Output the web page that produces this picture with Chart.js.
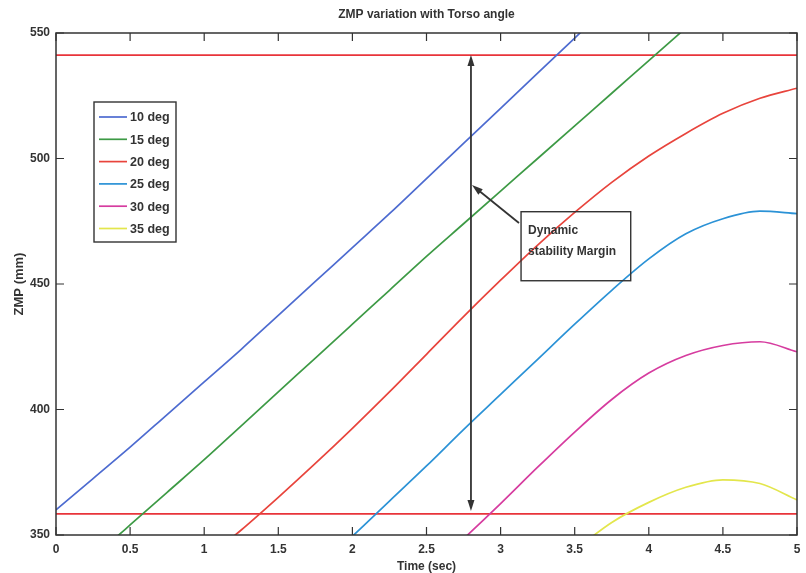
<!DOCTYPE html>
<html>
<head>
<meta charset="utf-8">
<script src="https://cdn.jsdelivr.net/npm/chart.js@4.4.1/dist/chart.umd.min.js"></script>
<style>
  html, body { margin: 0; padding: 0; background: #fff; }
  #wrap { width: 806px; height: 573px; position: relative; }
</style>
</head>
<body>
<div id="wrap"><canvas id="mycanvas" width="806" height="573"></canvas></div>
<script>
// time samples (sec)
var time = [0, 0.25, 0.5, 0.75, 1, 1.25, 1.5, 1.75, 2, 2.25, 2.5, 2.75, 3, 3.25, 3.5, 3.75, 4, 4.25, 4.5, 4.75, 5];

// ZMP (mm) per torso angle
var deg10 = [360, 372.5, 385, 398, 411, 424, 437.5, 451, 464.5, 478, 492, 506, 520, 534, 548, 562, null, null, null, null, null];
var deg15 = [328, 341, 354, 367, 380, 393.5, 407, 420.5, 434, 447.5, 461, 474, 487, 500, 513, 526, 539, 552, 565, null, null];
var deg20 = [null, null, null, null, 340, 352, 365, 378.5, 392.5, 407, 422, 437, 451.5, 465.5, 478.5, 490.5, 501, 510, 518, 524, 528];
var deg25 = [null, null, null, null, null, null, null, 336, 349.5, 363.5, 377.5, 392, 406, 420, 434, 447.5, 460, 470, 476, 479, 478];
var deg30 = [null, null, null, null, null, null, null, null, null, null, 335, 348.5, 362.5, 377, 391, 404, 414.5, 421.5, 425.5, 427, 423];
var deg35 = [null, null, null, null, null, null, null, null, null, null, null, null, null, null, 344, 355, 363, 369, 372, 370.5, 364];

var labels = ['10 deg', '15 deg', '20 deg', '25 deg', '30 deg', '35 deg'];
var colors = ['#4d6bd0', '#3d9a45', '#e8443c', '#2b92d6', '#d63c9f', '#e3e64c'];

// stability margin limits (mm) and where the arrow is drawn (sec)
var upperLimit = 541.2;
var lowerLimit = 358.4;
var marginTime = 2.8;

// tick labels
var xTicks = [0, 0.5, 1, 1.5, 2, 2.5, 3, 3.5, 4, 4.5, 5];
var yTicks = [350, 400, 450, 500, 550];

var series = [deg10, deg15, deg20, deg25, deg30, deg35];

function toPoints(vals)
{
	var pts = [];
	for (var i in time)
	{
		pts.push({ x: time[i], y: vals[i] });
	}
	return pts;
}

var datasets = [];
for (var s in series)
{
	datasets.push({
		label: labels[s],
		data: toPoints(series[s]),
		borderColor: colors[s],
		borderWidth: 1.7,
		pointRadius: 0,
		fill: false,
		cubicInterpolationMode: 'monotone'
	});
}
// margin lines
datasets.push({ label: 'upper', data: [{ x: 0, y: upperLimit }, { x: 5, y: upperLimit }], borderColor: '#e8343a', borderWidth: 1.6, pointRadius: 0 });
datasets.push({ label: 'lower', data: [{ x: 0, y: lowerLimit }, { x: 5, y: lowerLimit }], borderColor: '#e8343a', borderWidth: 1.6, pointRadius: 0 });

var FONT = '"Liberation Sans", Arial, sans-serif';
var ink = '#333333';

function arrowHead(ctx, x1, y1, x2, y2, len, half)
{
	var a = Math.atan2(y2 - y1, x2 - x1);
	ctx.beginPath();
	ctx.moveTo(x2, y2);
	ctx.lineTo(x2 - len * Math.cos(a) + half * Math.sin(a), y2 - len * Math.sin(a) - half * Math.cos(a));
	ctx.lineTo(x2 - len * Math.cos(a) - half * Math.sin(a), y2 - len * Math.sin(a) + half * Math.cos(a));
	ctx.closePath();
	ctx.fill();
}

var decor = {
	id: 'decor',
	afterDatasetsDraw: function(chart)
	{
		var ctx = chart.ctx;
		var a = chart.chartArea;
		var xs = chart.scales.x, ys = chart.scales.y;
		ctx.save();

		// frame
		ctx.strokeStyle = ink;
		ctx.lineWidth = 1.5;
		ctx.strokeRect(a.left, a.top, a.right - a.left, a.bottom - a.top);

		// inward ticks
		ctx.lineWidth = 1.2;
		ctx.beginPath();
		xTicks.forEach(function(v)
		{
			var px = xs.getPixelForValue(v);
			ctx.moveTo(px, a.bottom); ctx.lineTo(px, a.bottom - 8);
			ctx.moveTo(px, a.top); ctx.lineTo(px, a.top + 8);
		});
		yTicks.forEach(function(v)
		{
			var py = ys.getPixelForValue(v);
			ctx.moveTo(a.left, py); ctx.lineTo(a.left + 8, py);
			ctx.moveTo(a.right, py); ctx.lineTo(a.right - 8, py);
		});
		ctx.stroke();

		// double arrow for stability margin
		var ax = xs.getPixelForValue(marginTime);
		var top = ys.getPixelForValue(upperLimit);
		var bot = ys.getPixelForValue(lowerLimit) - 3;
		ctx.strokeStyle = ink;
		ctx.fillStyle = ink;
		ctx.lineWidth = 1.8;
		ctx.beginPath();
		ctx.moveTo(ax, top + 8);
		ctx.lineTo(ax, bot - 8);
		ctx.stroke();
		arrowHead(ctx, ax, top + 20, ax, top, 11, 3.5);
		arrowHead(ctx, ax, bot - 20, ax, bot, 11, 3.5);

		// text box
		var bx1 = xs.getPixelForValue(3.138), bx2 = xs.getPixelForValue(3.878);
		var by1 = ys.getPixelForValue(478.8), by2 = ys.getPixelForValue(451.3);
		ctx.lineWidth = 1.4;
		ctx.strokeStyle = ink;
		ctx.strokeRect(bx1, by1, bx2 - bx1, by2 - by1);
		ctx.fillStyle = ink;
		ctx.font = 'bold 12px ' + FONT;
		ctx.textAlign = 'left';
		ctx.textBaseline = 'alphabetic';
		ctx.fillText('Dynamic', bx1 + 7, by1 + 22);
		ctx.fillText('stability Margin', bx1 + 7, by1 + 43);

		// pointer arrow from the box
		var tx = xs.getPixelForValue(3.124), ty = ys.getPixelForValue(474.3);
		var hx = xs.getPixelForValue(2.807), hy = ys.getPixelForValue(489.4);
		ctx.lineWidth = 1.8;
		ctx.beginPath();
		ctx.moveTo(tx, ty);
		ctx.lineTo(hx + (tx - hx) * 0.15, hy + (ty - hy) * 0.15);
		ctx.stroke();
		arrowHead(ctx, tx, ty, hx, hy, 11, 3.5);

		// legend
		var lx = a.left + 38, ly = a.top + 69;
		ctx.fillStyle = '#ffffff';
		ctx.fillRect(lx, ly, 82, 140);
		ctx.strokeStyle = ink;
		ctx.lineWidth = 1.4;
		ctx.strokeRect(lx, ly, 82, 140);
		ctx.font = 'bold 12.5px ' + FONT;
		ctx.textBaseline = 'middle';
		for (var i = 0; i < labels.length; i++)
		{
			var ry = ly + 15 + i * 22.3;
			ctx.strokeStyle = colors[i];
			ctx.lineWidth = 1.7;
			ctx.beginPath();
			ctx.moveTo(lx + 5, ry);
			ctx.lineTo(lx + 33, ry);
			ctx.stroke();
			ctx.fillStyle = ink;
			ctx.fillText(labels[i], lx + 36, ry + 1);
		}

		// title and axis titles
		ctx.fillStyle = ink;
		ctx.textAlign = 'center';
		ctx.textBaseline = 'middle';
		ctx.font = 'bold 12px ' + FONT;
		ctx.fillText('ZMP variation with Torso angle', (a.left + a.right) / 2, 15);
		ctx.fillText('Time (sec)', (a.left + a.right) / 2, 567);
		ctx.translate(19, (a.top + a.bottom) / 2);
		ctx.rotate(-Math.PI / 2);
		ctx.font = 'bold 13px ' + FONT;
		ctx.fillText('ZMP (mm)', 0, 0);
		ctx.restore();
	}
};

var ctx = document.getElementById('mycanvas').getContext('2d');
var chart = new Chart(ctx, {
	type: 'line',
	data: { datasets: datasets },
	plugins: [decor],
	options: {
		responsive: false,
		animation: false,
		layout: { padding: { top: 33, right: 9, left: 0, bottom: 0 } },
		plugins: {
			legend: { display: false },
			tooltip: { enabled: false },
			title: { display: false }
		},
		scales: {
			x: {
				type: 'linear',
				min: 0,
				max: 5,
				afterFit: function(scale) { scale.height = 38; scale.paddingRight = 0; },
				afterBuildTicks: function(scale) { scale.ticks = xTicks.map(function(v) { return { value: v }; }); },
				grid: { display: false, drawTicks: false },
				border: { display: false },
				ticks: {
					padding: 7, color: ink, maxRotation: 0,
					font: { family: FONT, size: 12, weight: 'bold' },
					callback: function(v) { return String(v); }
				}
			},
			y: {
				type: 'linear',
				min: 350,
				max: 550,
				afterFit: function(scale) { scale.width = 56; },
				afterBuildTicks: function(scale) { scale.ticks = yTicks.map(function(v) { return { value: v }; }); },
				grid: { display: false, drawTicks: false },
				border: { display: false },
				ticks: { padding: 6, color: ink, font: { family: FONT, size: 12, weight: 'bold' } }
			}
		}
	}
});
</script>
</body>
</html>
